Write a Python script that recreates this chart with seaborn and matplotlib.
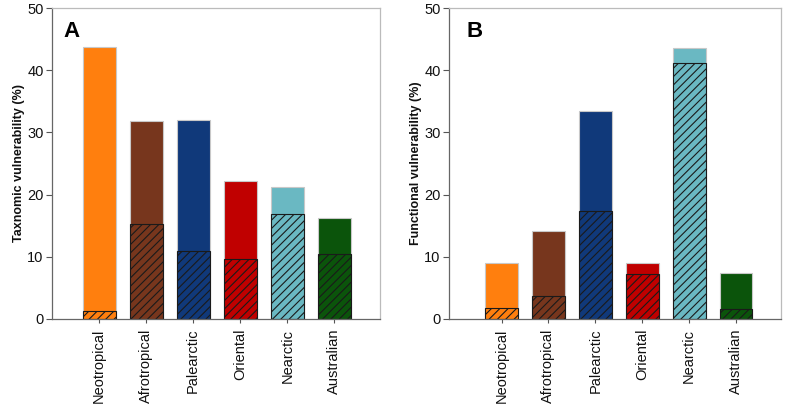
import matplotlib
matplotlib.use("Agg")
import matplotlib.pyplot as plt
import seaborn as sns
import pandas as pd

regions = ["Neotropical", "Afrotropical", "Palearctic", "Oriental", "Nearctic", "Australian"]
colors = ["#FF7F0E", "#77361D", "#10397A", "#C00000", "#6AB8C2", "#0B540B"]

taxo_total = [43.7, 31.9, 32.0, 22.2, 21.2, 16.2]
taxo_hatched = [1.35, 15.3, 10.9, 9.65, 16.9, 10.45]
func_total = [9.0, 14.1, 33.4, 9.0, 43.5, 7.4]
func_hatched = [1.7, 3.7, 17.3, 7.2, 41.2, 1.6]

sns.set_style("white")
plt.rcParams['font.family'] = ['Liberation Sans', 'DejaVu Sans']
plt.rcParams['hatch.linewidth'] = 0.8

fig = plt.figure(figsize=(7.87, 4.09), dpi=100)
axA = fig.add_axes([52/787, 90/409, (380-52)/787, 311/409])
axB = fig.add_axes([449/787, 90/409, (781-449)/787, 311/409])

pal = dict(zip(regions, colors))

def panel(ax, total, hatched, ylabel, letter, lx, xlim):
    df_t = pd.DataFrame({"region": regions, "v": total})
    df_h = pd.DataFrame({"region": regions, "v": hatched})
    sns.barplot(data=df_t, x="region", y="v", hue="region", palette=pal,
                legend=False, ax=ax, width=0.7, edgecolor="#c8c8c8", linewidth=0.8,
                saturation=1)
    n0 = len(ax.patches)
    sns.barplot(data=df_h, x="region", y="v", hue="region", palette=pal,
                legend=False, ax=ax, width=0.7, edgecolor="#1a1a1a", linewidth=0.8,
                saturation=1)
    for p in ax.patches[n0:]:
        p.set_hatch("////")
    ax.set_ylim(0, 50)
    ax.set_xlim(*xlim)
    ax.set_yticks([0, 10, 20, 30, 40, 50])
    ax.set_xlabel("")
    ax.set_ylabel(ylabel, fontsize=9, fontweight="bold", labelpad=2, color="#111111")
    ax.tick_params(axis="y", labelsize=10.5, direction="out", length=4, width=0.8,
                   colors="#555555", labelcolor="#111111", left=True, pad=2)
    ax.tick_params(axis="x", labelsize=10.5, direction="out", length=3, width=0.8,
                   colors="#555555", labelcolor="#111111", bottom=True, rotation=90, pad=4)
    for s in ["left", "bottom"]:
        ax.spines[s].set_color("#666666")
        ax.spines[s].set_linewidth(0.9)
    for s in ["top", "right"]:
        ax.spines[s].set_color("#bbbbbb")
        ax.spines[s].set_linewidth(0.9)
    ax.text(lx, 0.958, letter, transform=ax.transAxes, fontsize=16,
            fontweight="bold", ha="left", va="top", color="black")

panel(axA, taxo_total, taxo_hatched, "Taxnomic vulnerability (%)", "A", 0.034, (-1.0, 5.97))
panel(axB, func_total, func_hatched, "Functional vulnerability (%)", "B", 0.054, (-1.12, 5.96))

fig.savefig("out.png", dpi=100)
